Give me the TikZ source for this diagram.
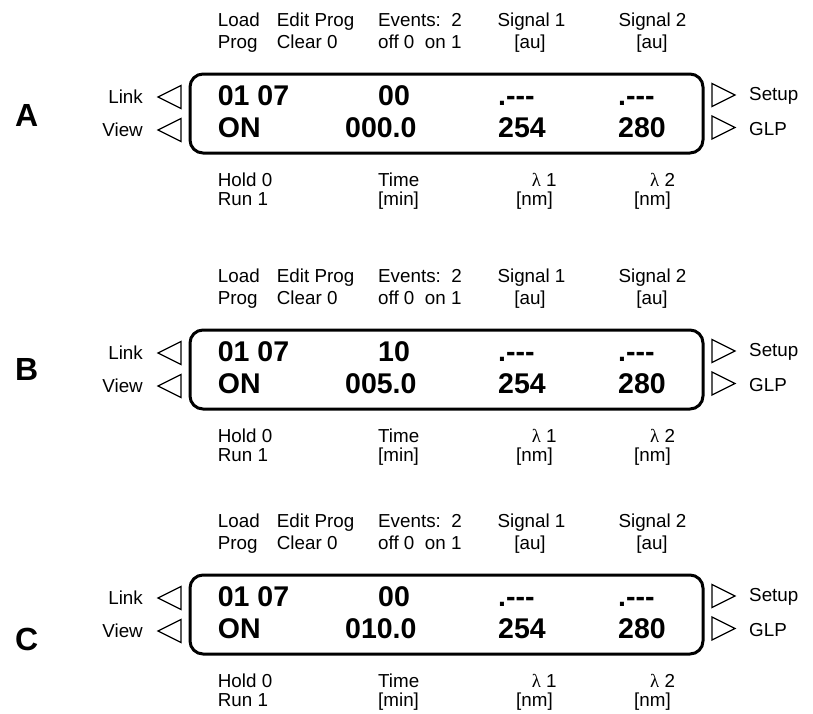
\documentclass[tikz,border=0pt]{standalone}
\usepackage{fontspec}
\setmainfont{Liberation Sans}
\newfontfamily\lamfont{Liberation Serif}
\tikzset{
  lab/.style={anchor=base west, inner sep=0pt, font=\fontsize{18.8}{22}\selectfont},
  labc/.style={anchor=base, inner sep=0pt, font=\fontsize{18.8}{22}\selectfont},
  labr/.style={anchor=base east, inner sep=0pt, font=\fontsize{18.8}{22}\selectfont},
  val/.style={anchor=base west, inner sep=0pt, font=\fontsize{28.5}{32}\selectfont\bfseries},
  panelletter/.style={anchor=base, inner sep=0pt, font=\fontsize{32}{36}\selectfont\bfseries},
  lcd/.style={line width=3pt, rounded corners=13pt},
  btn/.style={line width=1.3pt, line join=miter}
}
\newcommand\lcddashes{.-{}-{}-}
\newcommand\lcdpanel[6]{%
\begin{scope}[shift={(0,#2)}]
  % top labels
  \node[lab] (#1load) at (217.7,-48) {Load};
  \node[lab] (#1prog) at (217.7,-26) {Prog};
  \node[lab] (#1edit) at (276.7,-48) {Edit Prog};
  \node[lab] (#1clear) at (276.7,-26) {Clear 0};
  \node[lab] (#1events) at (378,-48) {Events:\ \ 2};
  \node[lab] (#1offon) at (378,-26) {off 0\ \ on 1};
  \node[labc] (#1sigA) at (531.5,-48) {Signal 1};
  \node[labc] (#1auA) at (530,-26) {[au]};
  \node[labc] (#1sigB) at (652.5,-48) {Signal 2};
  \node[labc] (#1auB) at (652,-26) {[au]};
  % display box
  \draw[lcd] (190,0) rectangle (703,79);
  \node[val] (#1prg) at (217.7,31) {01 07};
  \node[val] (#1on) at (217.7,63.5) {ON};
  \node[val] (#1ev) at (378,31) {#3};
  \node[val] (#1time) at (345,63.5) {#4};
  \node[val] (#1sA) at (498,31) {\lcddashes};
  \node[val] (#1wA) at (498,63.5) {254};
  \node[val] (#1sB) at (618,31) {\lcddashes};
  \node[val] (#1wB) at (618,63.5) {280};
  % side buttons
  \node[labr] (#1link) at (143,29.5) {Link};
  \node[labr] (#1view) at (143,62.5) {View};
  \draw[btn] (181,11.5) -- (158,23) -- (181,34.5) -- cycle;
  \draw[btn] (181,44.5) -- (158,56) -- (181,67.5) -- cycle;
  \draw[btn] (712,9.5) -- (735,21) -- (712,32.5) -- cycle;
  \draw[btn] (712,42) -- (735,53.5) -- (712,65) -- cycle;
  \node[lab] (#1setup) at (749,26.5) {Setup};
  \node[lab] (#1glp) at (749,61) {GLP};
  % bottom labels
  \node[lab] (#1hold) at (217.7,112) {Hold 0};
  \node[lab] (#1run) at (217.7,131) {Run 1};
  \node[lab] (#1tlab) at (378,112) {Time};
  \node[lab] (#1min) at (378,131) {[min]};
  \node[lab] (#1lamA) at (531.7,112) {{\lamfont λ} 1};
  \node[lab] (#1nmA) at (516,131) {[nm]};
  \node[lab] (#1lamB) at (650,112) {{\lamfont λ} 2};
  \node[lab] (#1nmB) at (634,131) {[nm]};
  % panel letter
  \node[panelletter] (#1letter) at (26.7,#6) {#5};
\end{scope}}
\begin{document}
\begin{tikzpicture}[x=1pt, y=-1pt]
  \useasboundingbox (0,0) rectangle (813,713);
  \lcdpanel{A}{74}{00}{000.0}{A}{52}
  \lcdpanel{B}{330}{10}{005.0}{B}{50}
  \lcdpanel{C}{575}{00}{010.0}{C}{75.7}
\end{tikzpicture}
\end{document}
